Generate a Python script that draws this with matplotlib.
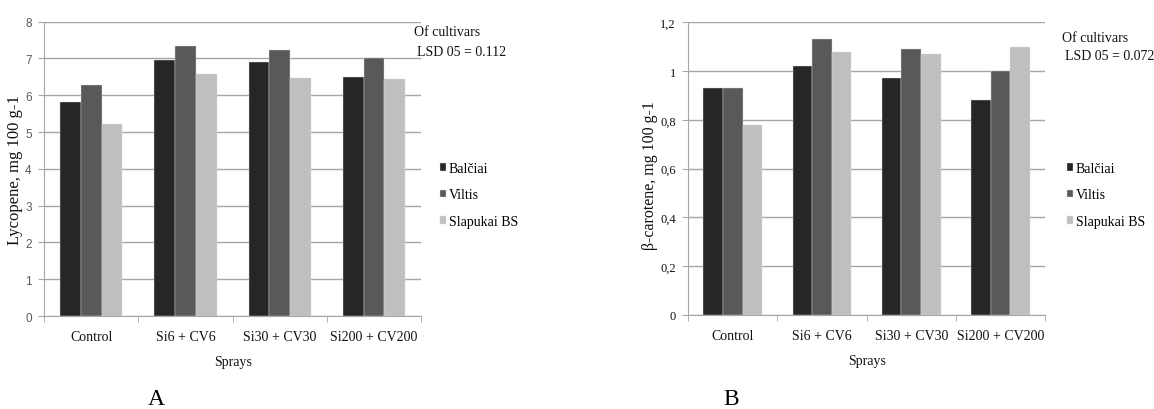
import matplotlib
matplotlib.use("Agg")
import matplotlib.pyplot as plt
import numpy as np
from matplotlib.ticker import FuncFormatter, MultipleLocator

W, H = 1154, 410

categories = ["Control", "Si6 + CV6", "Si30 + CV30", "Si200 + CV200"]
cultivars = ["Balčiai", "Viltis", "Slapukai BS"]

lycopene_balciai = [5.83, 6.97, 6.90, 6.50]
lycopene_viltis = [6.27, 7.33, 7.22, 7.00]
lycopene_slapukai = [5.23, 6.59, 6.46, 6.43]

carotene_balciai = [0.93, 1.02, 0.97, 0.88]
carotene_viltis = [0.93, 1.13, 1.09, 1.00]
carotene_slapukai = [0.78, 1.08, 1.07, 1.10]

colors = ["#262626", "#595959", "#bfbfbf"]
SERIF = ["Liberation Serif", "DejaVu Serif"]
GRID = "#a6a6a6"
FS = 10

fig = plt.figure(figsize=(W / 100, H / 100), dpi=100)


def px_axes(x0, x1, ytop, ybot):
    return fig.add_axes([x0 / W, 1 - ybot / H, (x1 - x0) / W, (ybot - ytop) / H])


def draw(ax, series, ymax, ystep, ylabel, tick_font, tick_size, tick_color, fmt,
         legend_x, lsd_text, lsd_xy, ylabel_xy, ylabel_size, letter, letter_x):
    x = np.arange(len(categories))
    bw = 0.22
    handles = []
    for i, (vals, c, name) in enumerate(zip(series, colors, cultivars)):
        b = ax.bar(x + (i - 1) * bw, vals, width=bw, color=c, label=name,
                   edgecolor="#d9d9d9", linewidth=0.3, zorder=3)
        handles.append(b)
    ax.set_xlim(-0.5, len(categories) - 0.5)
    ax.set_ylim(0, ymax)
    ax.yaxis.set_major_locator(MultipleLocator(ystep))
    ax.yaxis.set_major_formatter(FuncFormatter(fmt))
    ax.grid(axis="y", color=GRID, linewidth=1.0, zorder=0)
    for s in ["top", "right"]:
        ax.spines[s].set_visible(False)
    ax.spines["left"].set_color(GRID)
    ax.spines["bottom"].set_color(GRID)
    ax.set_xticks(x)
    ax.set_xticklabels(categories, fontfamily=SERIF, fontsize=FS, color="#111111")
    ax.set_xticks(np.arange(len(categories) + 1) - 0.5, minor=True)
    ax.tick_params(axis="x", which="major", length=0, pad=10)
    ax.tick_params(axis="x", which="minor", length=4, color=GRID, direction="out")
    ax.tick_params(axis="y", which="major", length=4, color=GRID, direction="out",
                   pad=5, labelcolor=tick_color)
    for lab in ax.get_yticklabels():
        lab.set_fontfamily(tick_font)
        lab.set_fontsize(tick_size)
    ax.set_xlabel("Sprays", fontfamily=SERIF, fontsize=FS, color="#111111", labelpad=9)
    fig.text(ylabel_xy[0] / W, 1 - ylabel_xy[1] / H, ylabel, rotation=90, ha="center",
             va="center", fontfamily=SERIF, fontsize=ylabel_size, color="#111111")
    fig.text(lsd_xy[0] / W, 1 - lsd_xy[1] / H, "Of cultivars", ha="left", va="center",
             fontfamily=SERIF, fontsize=FS, color="#111111")
    fig.text((lsd_xy[0] + 3) / W, 1 - (lsd_xy[1] + 19) / H, lsd_text, ha="left",
             va="center", fontfamily=SERIF, fontsize=FS, color="#111111")
    fig.legend(handles=handles, labels=cultivars, loc="center left",
               bbox_to_anchor=(legend_x / W, 1 - 196 / H), frameon=False,
               prop={"family": SERIF, "size": FS}, handlelength=0.45,
               handleheight=0.45, handletextpad=0.2, labelspacing=0.98,
               borderpad=0, borderaxespad=0)
    fig.text(letter_x / W, 1 - 400 / H, letter, ha="center", va="center",
             fontfamily=SERIF, fontsize=17, color="#000000")


axA = px_axes(44.3, 421, 22.7, 317)
draw(axA, [lycopene_balciai, lycopene_viltis, lycopene_slapukai], 8, 1,
     "Lycopene, mg 100 g-1", ["Liberation Sans", "DejaVu Sans"], 8.5, "#595959",
     lambda v, p: f"{v:.0f}", 440, "LSD 05 = 0.112", (414, 33), (15.5, 170), 12,
     "A", 156.5)

axB = px_axes(688.3, 1045, 23.3, 316)
draw(axB, [carotene_balciai, carotene_viltis, carotene_slapukai], 1.2, 0.2,
     "β-carotene, mg 100 g-1", SERIF, 9, "#111111",
     lambda v, p: ("0" if abs(v) < 1e-9 else f"{v:.1f}".replace(".", ",").replace(",0", "")),
     1066.7, "LSD 05 = 0.072", (1061.7, 38), (650, 176), 11.5, "B", 731.5)

fig.savefig("out.png", dpi=100, facecolor="white")
